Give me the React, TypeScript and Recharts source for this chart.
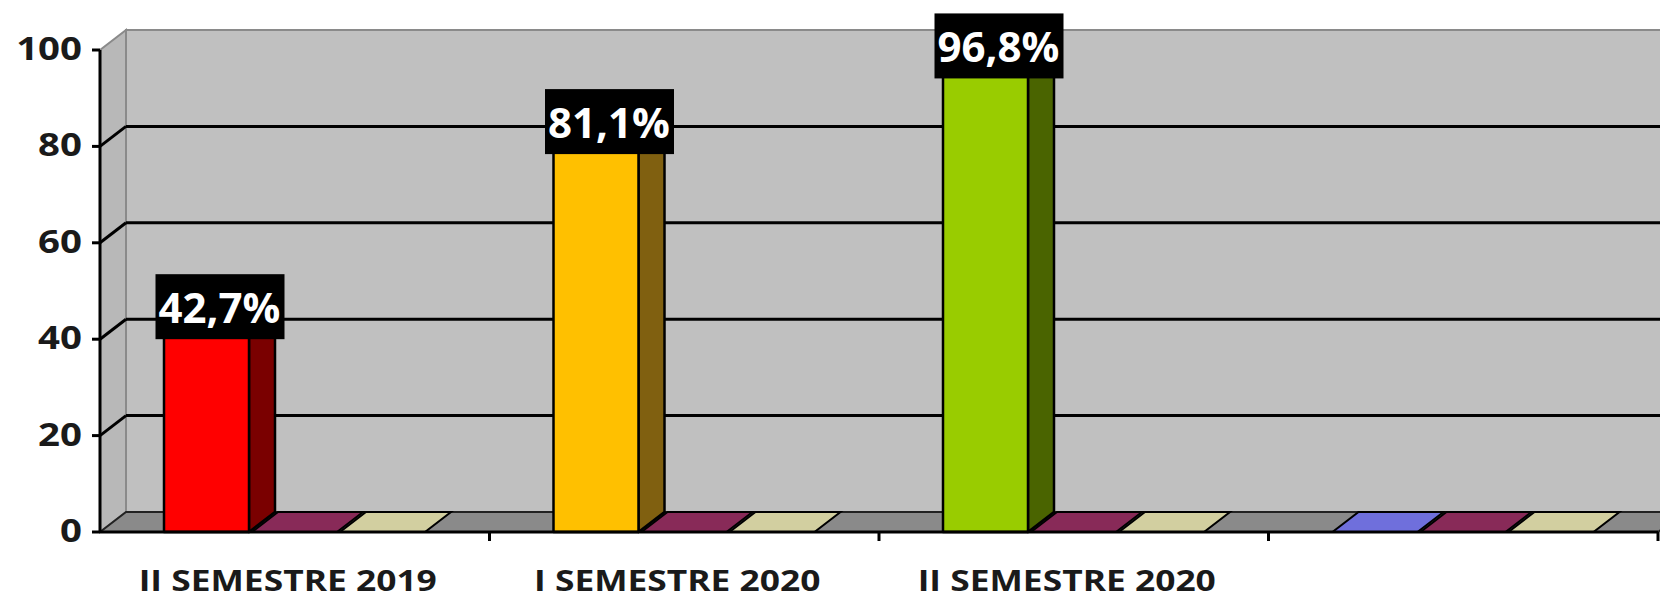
import { BarChart, Bar, XAxis, YAxis, Cell, LabelList, ReferenceArea } from 'recharts';

const categories = ['II SEMESTRE 2019', 'I SEMESTRE 2020', 'II SEMESTRE 2020', ''];
const serie1 = [42.7, 81.1, 96.8, 0];
const serie2 = [0, 0, 0, 0];
const serie3 = [0, 0, 0, 0];
const yTicks = [0, 20, 40, 60, 80, 100];

const data = categories.map((cat, i) => ({ cat, s1: serie1[i], s2: serie2[i], s3: serie3[i] }));

const W = 1660;
const H = 599;
const X_H = 30; // x axis height, counted inside the bottom margin
const M = { top: 50, right: 2, bottom: 67 - X_H, left: 0 };
const Y_W = 100;
const DX = 26; // 3d depth
const DY = 20;
const BAND = (W - M.left - M.right - Y_W) / categories.length;

const front1 = ['#ff0000', '#ffc000', '#99cc00', '#6f6fdc'];
const side1 = ['#7a0000', '#806010', '#4a6400', '#38386e'];
const FONT = '"Open Sans", sans-serif';

function Bar3D(props: any) {
  const { x, y, width: w, height: h, fill, side } = props;
  if (!(h >= 1)) {
    const b = y + (h || 0);
    return (
      <polygon
        points={`${x},${b} ${x + w},${b} ${x + w + DX},${b - DY} ${x + DX},${b - DY}`}
        fill={fill}
        stroke="#000"
        strokeWidth={2}
      />
    );
  }
  return (
    <g stroke="#000" strokeWidth={2.5} strokeLinejoin="round">
      <polygon points={`${x + w},${y} ${x + w + DX},${y - DY} ${x + w + DX},${y + h - DY} ${x + w},${y + h}`} fill={side} />
      <polygon points={`${x},${y} ${x + DX},${y - DY} ${x + w + DX},${y - DY} ${x + w},${y}`} fill={side} />
      <rect x={x} y={y} width={w} height={h} fill={fill} />
    </g>
  );
}

function Wall(props: any) {
  const { x, y, width: w, height: h } = props;
  const yOf = (t: number) => y + h * (1 - t / 100);
  const b = y + h;
  return (
    <g>
      <polygon points={`${x},${y} ${x + DX},${y - DY} ${x + DX},${b - DY} ${x},${b}`} fill="#b8b8b8" stroke="#8a8a8a" strokeWidth={2} />
      <rect x={x + DX} y={y - DY} width={w} height={h} fill="#c0c0c0" stroke="#8a8a8a" strokeWidth={2} />
      <polygon points={`${x},${b} ${x + DX},${b - DY} ${x + w + DX},${b - DY} ${x + w},${b}`} fill="#8a8a8a" stroke="#222" strokeWidth={2} />
      {yTicks.filter((t) => t > 0 && t < 100).map((t) => (
        <g key={t} stroke="#000" strokeWidth={3}>
          <line x1={x} y1={yOf(t)} x2={x + DX} y2={yOf(t) - DY} />
          <line x1={x + DX} y1={yOf(t) - DY} x2={x + w + DX} y2={yOf(t) - DY} />
        </g>
      ))}
    </g>
  );
}

const fmt = (v: number) => v.toFixed(1).replace('.', ',') + '%';

const renderLabel = (p: any) => {
  const { x, y, width, value } = p;
  if (!value) return null;
  const cx = x + (width + DX) / 2;
  const bottom = y + 13;
  return (
    <g>
      <rect x={cx - 64} y={bottom - 65} width={129} height={65} fill="#000" />
      <text x={cx} y={bottom - 16} textAnchor="middle" fill="#fff" fontFamily={FONT} fontWeight={700} fontSize={42}>
        {fmt(value)}
      </text>
    </g>
  );
};

const YTick = (p: any) => {
  const { x, y, payload } = p;
  return (
    <text transform={`translate(${x - 8},${y + 10}) scale(1.2,1)`} textAnchor="end" fill="#1a1a1a" fontFamily={FONT} fontWeight={700} fontSize={32}>
      {payload.value}
    </text>
  );
};

const XTick = (p: any) => {
  const { x, y, payload } = p;
  return (
    <g>
      <line x1={x + BAND / 2} y1={y} x2={x + BAND / 2} y2={y + 9} stroke="#000" strokeWidth={3} />
      <text transform={`translate(${x - 7},${y + 59}) scale(1.22,1)`} textAnchor="middle" fill="#1a1a1a" fontFamily={FONT} fontWeight={700} fontSize={29}>
        {payload.value}
      </text>
    </g>
  );
};

export default function App() {
  return (
    <div style={{ position: 'fixed', left: 0, top: 0, background: '#fff' }}>
      <BarChart width={W} height={H} data={data} margin={M} barSize={85} barGap={3}>
        <ReferenceArea y1={0} y2={100} shape={Wall} ifOverflow="visible" zIndex={-1000} />
        <XAxis
          dataKey="cat"
          height={X_H}
          axisLine={{ stroke: '#000', strokeWidth: 3 }}
          tickLine={false}
          tickSize={0}
          tickMargin={0}
          tick={XTick}
          interval={0}
        />
        <YAxis
          width={Y_W}
          domain={[0, 100]}
          ticks={yTicks}
          axisLine={{ stroke: '#000', strokeWidth: 3 }}
          tickLine={{ stroke: '#000', strokeWidth: 3 }}
          tickSize={8}
          tickMargin={2}
          tick={YTick}
        />
        <Bar dataKey="s1" isAnimationActive={false} shape={(p: any) => <Bar3D {...p} side={side1[p.index]} />}>
          {data.map((_, i) => (
            <Cell key={`c-${i}`} fill={front1[i]} />
          ))}
          <LabelList dataKey="s1" content={renderLabel} />
        </Bar>
        <Bar dataKey="s2" fill="#882a58" isAnimationActive={false} shape={(p: any) => <Bar3D {...p} />} />
        <Bar dataKey="s3" fill="#d2cfa0" isAnimationActive={false} shape={(p: any) => <Bar3D {...p} />} />
      </BarChart>
    </div>
  );
}
